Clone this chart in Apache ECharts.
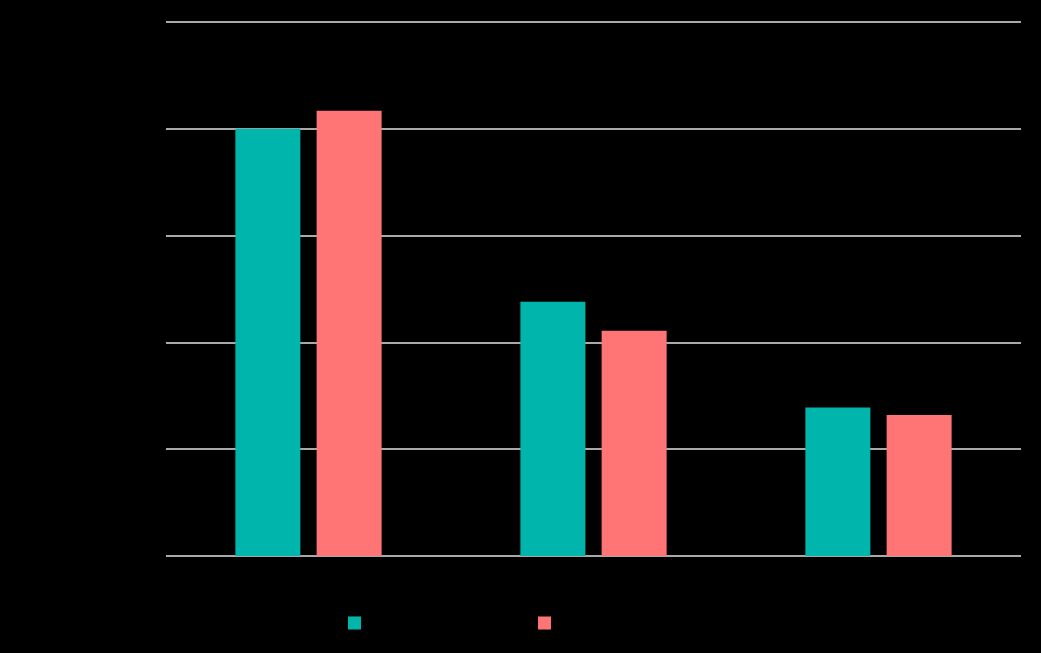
<!DOCTYPE html>
<html>
<head>
<meta charset="utf-8">
<script src="https://cdn.jsdelivr.net/npm/echarts@6/dist/echarts.min.js"></script>
<style>html,body{margin:0;padding:0;background:#000;}#c{width:1041px;height:653px;}</style>
</head>
<body>
<div id="c"></div>
<script>
var categories = ['Group A', 'Group B', 'Group C'];
var seriesNames = ['Series 1', 'Series 2'];
var series1 = [40, 23.8, 13.9];
var series2 = [41.7, 21.1, 13.2];
var yTicks = [0, 10, 20, 30, 40, 50];

var chart = echarts.init(document.getElementById('c'));
chart.setOption({
  backgroundColor: '#000000',
  animation: false,
  grid: { left: 166, right: 20, top: 22, bottom: 97, containLabel: false },
  legend: [
    { data: [seriesNames[0]], left: 343, top: 611, itemWidth: 13, itemHeight: 13, icon: 'rect',
      textStyle: { color: '#000000', fontSize: 14, fontFamily: 'Liberation Sans' } },
    { data: [seriesNames[1]], left: 533, top: 611, itemWidth: 13, itemHeight: 13, icon: 'rect',
      textStyle: { color: '#000000', fontSize: 14, fontFamily: 'Liberation Sans' } }
  ],
  xAxis: {
    type: 'category',
    data: categories,
    axisLine: { show: false },
    axisTick: { show: false },
    axisLabel: { color: '#000000', fontSize: 14, margin: 14 }
  },
  yAxis: {
    type: 'value',
    min: yTicks[0],
    max: yTicks[yTicks.length - 1],
    interval: 10,
    axisLine: { show: false },
    axisTick: { show: false },
    axisLabel: { color: '#000000', fontSize: 13, margin: 6 },
    splitLine: { lineStyle: { color: '#e2e2e2', width: 1.5 } }
  },
  series: [
    { name: seriesNames[0], type: 'bar', data: series1, barWidth: 65, barGap: '25%',
      itemStyle: { color: '#00b5ab' } },
    { name: seriesNames[1], type: 'bar', data: series2, barWidth: 65, barGap: '25%',
      itemStyle: { color: '#ff7474' } }
  ]
});
</script>
</body>
</html>
